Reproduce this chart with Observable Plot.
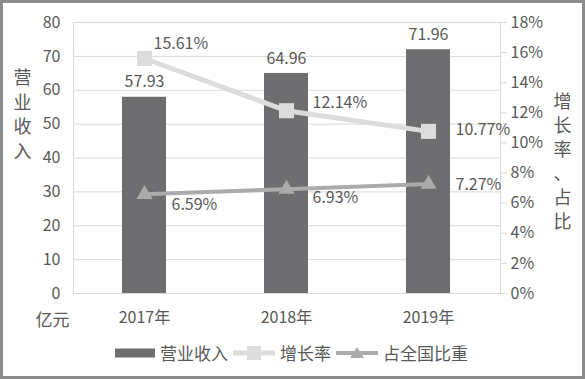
<!DOCTYPE html>
<html>
<head>
<meta charset="utf-8">
<script src="https://cdn.jsdelivr.net/npm/d3@7"></script>
<script src="https://cdn.jsdelivr.net/npm/@observablehq/plot@0.6"></script>
<style>
  html, body { margin: 0; padding: 0; background: #fff; }
  #wrap { position: relative; width: 585px; height: 379px; overflow: hidden; background: #fff;
          font-family: "Noto Sans CJK SC", "Noto Sans", sans-serif; color: #595959; }
  #border { position: absolute; left: 0; top: 0; right: 0; bottom: 0; border: 3px solid #8c8c8c; pointer-events: none; }
  #legend { position: absolute; left: 115px; top: 341px; display: flex; align-items: center; font-size: 17px; line-height: 24px; color: #595959; }
  #legend .item { display: flex; align-items: center; margin-right: 5px; }
  #legend svg { margin-right: 5px; }
</style>
</head>
<body>
<div id="wrap"><div id="chart"></div><div id="legend"></div><div id="border"></div></div>
<script>
// ---- data ----
const years = ["2017", "2018", "2019"];
const revenue = [57.93, 64.96, 71.96];          // 营业收入 (亿元)
const growth = [15.61, 12.14, 10.77];           // 增长率 (%)
const share = [6.59, 6.93, 7.27];               // 占全国比重 (%)
const leftTicks = [0, 10, 20, 30, 40, 50, 60, 70, 80];
const rightTicks = [0, 2, 4, 6, 8, 10, 12, 14, 16, 18];
const seriesNames = ["营业收入", "增长率", "占全国比重"];

// ---- styles ----
const TEXT = "#595959", GRID = "#d9d9d9", BAR = "#6e6e70", GROWTH = "#dcdcdc", SHARE = "#ababab";
const FONT = "Noto Sans CJK SC";
const growthLabelOffsets = [[9, -15], [26, -8], [27, -1]];
const shareLabelOffsets = [[27, 11], [26, 9], [27, 1]];

const LMAX = 80, RMAX = 18;
const toLeft = p => p * LMAX / RMAX;

const rows = years.map((y, i) => ({year: y, revenue: revenue[i], growth: growth[i], share: share[i]}));

const labelMarks = [];
rows.forEach((r, i) => {
  labelMarks.push(Plot.text([r], {x: "year", y: d => toLeft(d.growth), text: d => d.growth.toFixed(2) + "%",
    textAnchor: "start", dx: growthLabelOffsets[i][0], dy: growthLabelOffsets[i][1], fontSize: 16, fill: TEXT}));
  labelMarks.push(Plot.text([r], {x: "year", y: d => toLeft(d.share), text: d => d.share.toFixed(2) + "%",
    textAnchor: "start", dx: shareLabelOffsets[i][0], dy: shareLabelOffsets[i][1], fontSize: 16, fill: TEXT}));
});

const chart = Plot.plot({
  width: 585,
  height: 379,
  marginLeft: 73,
  marginRight: 85,
  marginTop: 22,
  marginBottom: 86,
  style: {fontFamily: FONT, color: TEXT, background: "transparent"},
  x: {domain: years, paddingInner: 0.69, paddingOuter: 0.345, label: null},
  y: {domain: [0, LMAX], label: null},
  marks: [
    Plot.gridY(leftTicks, {stroke: GRID, strokeOpacity: 1}),
    Plot.frame({stroke: GRID}),
    Plot.axisY(leftTicks, {anchor: "left", tickSize: 0, tickPadding: 13, fontSize: 16, label: null, fill: TEXT}),
    Plot.axisY(rightTicks.map(toLeft), {anchor: "right", tickSize: 6, tickPadding: 4, fontSize: 16, label: null,
      tickFormat: v => Math.round(v * RMAX / LMAX) + "%", stroke: GRID, fill: TEXT}),
    Plot.axisX({tickSize: 0, tickPadding: 18, fontSize: 16, label: null, tickFormat: d => d + "年", fill: TEXT}),
    Plot.barY(rows, {x: "year", y: "revenue", fill: BAR}),
    Plot.text(rows, {x: "year", y: "revenue", text: d => d.revenue.toFixed(2), dy: -15, fontSize: 16, fill: TEXT}),
    Plot.lineY(rows, {x: "year", y: d => toLeft(d.growth), stroke: GROWTH, strokeWidth: 5}),
    Plot.dot(rows, {x: "year", y: d => toLeft(d.growth), symbol: "square", r: 8.5, fill: GROWTH, stroke: null}),
    Plot.lineY(rows, {x: "year", y: d => toLeft(d.share), stroke: SHARE, strokeWidth: 4}),
    Plot.dot(rows, {x: "year", y: d => toLeft(d.share), symbol: "triangle", r: 6, fill: SHARE, stroke: null}),
    ...labelMarks,
    Plot.text([seriesNames[0].split("").join("\n")], {frameAnchor: "left", textAnchor: "middle", text: d => d, dx: -51, dy: -45,
      fontSize: 18, lineHeight: 1.36, fill: TEXT}),
    Plot.text(["增长率、占比".split("").join("\n")], {frameAnchor: "right", textAnchor: "middle", text: d => d, dx: 62, dy: 2,
      fontSize: 18, lineHeight: 1.33, fill: TEXT}),
    Plot.text(["亿元"], {frameAnchor: "bottom-left", textAnchor: "middle", text: d => d, dx: -21, dy: 32, fontSize: 17, fill: TEXT})
  ]
});
document.getElementById("chart").appendChild(chart);

// ---- legend ----
const legend = document.getElementById("legend");
const swatches = [
  `<svg width="40" height="12"><rect x="0" y="1.5" width="40" height="9" fill="${BAR}"/></svg>`,
  `<svg width="42" height="16"><line x1="0" x2="42" y1="8" y2="8" stroke="${GROWTH}" stroke-width="5"/><rect x="14" y="1" width="14" height="14" fill="${GROWTH}"/></svg>`,
  `<svg width="42" height="16"><line x1="0" x2="42" y1="8" y2="8" stroke="${SHARE}" stroke-width="4"/><path d="M21,2 L28,13 L14,13 Z" fill="${SHARE}"/></svg>`
];
seriesNames.forEach((name, i) => {
  const item = document.createElement("div");
  item.className = "item";
  item.innerHTML = swatches[i] + `<span>${name}</span>`;
  legend.appendChild(item);
});
</script>
</body>
</html>
